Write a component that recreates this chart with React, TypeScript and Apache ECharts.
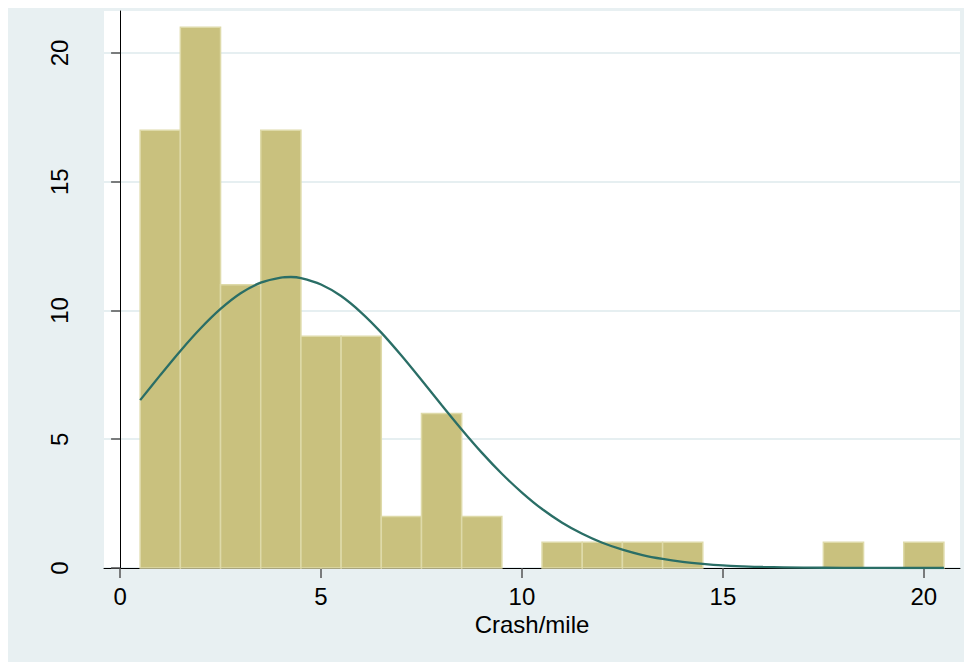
import React, { useEffect, useRef } from "react";
import * as echarts from "echarts";

// Histogram bins (left edge of each 1-unit-wide bin) and counts
const binLeft = [0.5, 1.5, 2.5, 3.5, 4.5, 5.5, 6.5, 7.5, 8.5, 10.5, 11.5, 12.5, 13.5, 17.5, 19.5];
const binCounts = [17, 21, 11, 17, 9, 9, 2, 6, 2, 1, 1, 1, 1, 1, 1];
const binWidth = 1;

// Normal density overlay
const curveX = [0.5, 1, 1.5, 2, 2.5, 3, 3.5, 4, 4.25, 4.5, 5, 5.5, 6, 6.5, 7, 7.5, 8, 8.5, 9, 9.5, 10, 10.5, 11, 11.5, 12, 12.5, 13, 13.5, 14, 14.5, 15, 15.5, 16, 17, 18, 19, 20, 20.5];
const curveY = [6.52, 7.49, 8.43, 9.3, 10.06, 10.67, 11.08, 11.28, 11.3, 11.26, 11.01, 10.56, 9.92, 9.14, 8.25, 7.3, 6.33, 5.38, 4.48, 3.66, 2.93, 2.29, 1.76, 1.33, 0.98, 0.71, 0.5, 0.35, 0.24, 0.16, 0.1, 0.065, 0.04, 0.015, 0.005, 0.001, 0, 0];

const xTicks = [0, 5, 10, 15, 20];
const yTicks = [0, 5, 10, 15, 20];
const xTitle = "Crash/mile";

const FONT = "'Liberation Sans', Arial, sans-serif";

export default function App() {
  const ref = useRef<HTMLDivElement>(null);
  useEffect(() => {
    if (!ref.current) return;
    const chart = echarts.init(ref.current, undefined, { renderer: "svg" });
    const bars = binLeft.map((l, i) => [l, l + binWidth, binCounts[i]]);
    const curve = curveX.map((x, i) => [x, curveY[i]]);
    chart.setOption({
      animation: false,
      backgroundColor: "#E8F0F2",
      grid: {
        left: 97,
        top: 4,
        width: 856,
        height: 557,
        show: true,
        backgroundColor: "#FFFFFF",
        borderWidth: 0,
      },
      xAxis: {
        type: "value",
        min: -0.4,
        max: 20.9,
        name: xTitle,
        nameLocation: "middle",
        nameGap: 41,
        nameTextStyle: { fontFamily: FONT, fontSize: 24, color: "#000", verticalAlign: "top" },
        axisLine: { show: true, onZero: false, lineStyle: { color: "#000", width: 1 } },
        axisTick: { show: true, customValues: xTicks, length: 10, lineStyle: { color: "#555", width: 1.5 } },
        axisLabel: { customValues: xTicks, margin: 16, fontFamily: FONT, fontSize: 24, color: "#000" },
        splitLine: { show: false },
      },
      yAxis: {
        type: "value",
        min: 0,
        max: 21.63,
        axisLine: { show: true, lineStyle: { color: "#000", width: 1 } },
        axisTick: { show: true, customValues: yTicks, length: 9, lineStyle: { color: "#555", width: 1.5 } },
        axisLabel: {
          customValues: yTicks,
          rotate: 90,
          align: "center",
          verticalAlign: "bottom",
          margin: 33,
          fontFamily: FONT,
          fontSize: 24,
          color: "#000",
        },
        splitLine: {
          show: true,
          lineStyle: { color: "#E6EFF1", width: 2 },
        },
      },
      series: [
        {
          type: "custom",
          data: bars,
          z: 2,
          renderItem: (params: any, api: any) => {
            const p0 = api.coord([api.value(0), api.value(2)]);
            const p1 = api.coord([api.value(1), 0]);
            return {
              type: "rect",
              shape: { x: p0[0], y: p0[1], width: p1[0] - p0[0], height: p1[1] - p0[1] },
              style: { fill: "#C9C17E", stroke: "#DEDAA9", lineWidth: 1.5 },
            };
          },
        },
        {
          type: "line",
          data: curve,
          smooth: 0.3,
          showSymbol: false,
          symbol: "none",
          z: 3,
          lineStyle: { color: "#2A6E66", width: 2.3 },
        },
      ],
    });
    return () => chart.dispose();
  }, []);
  return (
    <div
      ref={ref}
      style={{ position: "relative", left: -1, top: -1, width: 965, height: 655 }}
    />
  );
}
